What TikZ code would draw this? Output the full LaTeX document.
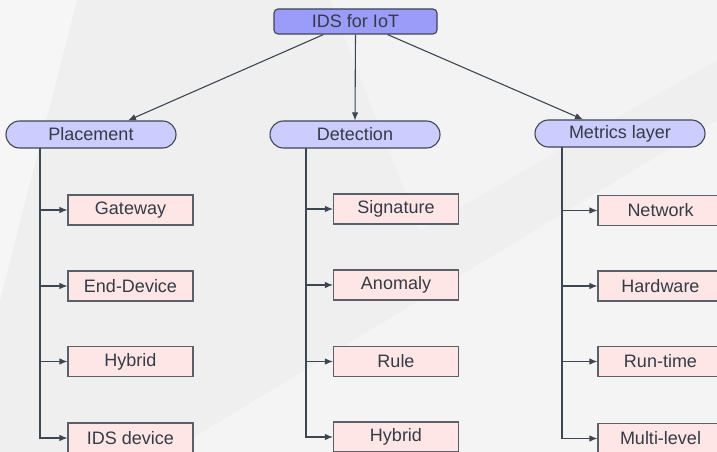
\documentclass[tikz,border=0pt]{standalone}
\usepackage{fontspec}
\setmainfont{Liberation Sans}
\usepackage{tikz}
\usetikzlibrary{arrows.meta,shapes.misc}

\definecolor{bgcol}{HTML}{EFEFEF}
\definecolor{linecol}{HTML}{3D4751}
\definecolor{txtcol}{HTML}{333B45}
\definecolor{rootfill}{HTML}{9B9BFA}
\definecolor{catfill}{HTML}{CCCCFF}
\definecolor{leaffill}{HTML}{FFE6E6}
\definecolor{leafedge}{HTML}{5A6068}

\begin{document}
\begin{tikzpicture}[x=1pt,y=-1pt]

\tikzset{root/.style = {draw=linecol,fill=rootfill,rounded corners=4pt,line width=1.1pt,minimum width=163pt,minimum height=25pt,inner sep=0pt,text=txtcol,font=\fontsize{18}{20}\selectfont}}
\tikzset{cat/.style = {rounded rectangle,draw=linecol,fill=catfill,line width=1.1pt,minimum width=170pt,minimum height=27pt,inner sep=0pt,text=txtcol,font=\fontsize{18}{20}\selectfont}}
\tikzset{leaf/.style = {draw=leafedge,fill=leaffill,line width=1.1pt,minimum width=125pt,minimum height=30pt,inner sep=0pt,text=txtcol,font=\fontsize{18}{20}\selectfont}}
\tikzset{arc/.style = {-{Latex[length=8pt,width=6.5pt]},draw=linecol,line width=1.1pt}}

% background
\fill[bgcol] (0,0) rectangle (717,452);
\clip (0,0) rectangle (717,452);
\fill[white,opacity=.45] (0,0) -- (77,0) -- (0,300) -- cycle;
\fill[white,opacity=.35] (170,452) -- (717,120) -- (717,452) -- cycle;
\fill[white,opacity=.3] (330,0) -- (717,0) -- (717,60) -- (420,230) -- cycle;

% top
\node[root] (ids) at (355.5,21.5) {IDS for IoT};

% categories
\node[cat] (pl) at (91,134.5) {Placement};
\node[cat] (de) at (355,134.5) {Detection};
\node[cat] (me) at (620,133.5) {Metrics layer};

% leaves
\node[leaf] (gw) at (130.5,210) {Gateway};
\node[leaf] (ed) at (130.5,286) {End-Device};
\node[leaf] (hy) at (130.5,361.5) {Hybrid};
\node[leaf] (dv) at (130.5,438) {IDS device};

\node[leaf] (si) at (396,209) {Signature};
\node[leaf] (an) at (396,285) {Anomaly};
\node[leaf] (ru) at (396,361.5) {Rule};
\node[leaf] (hd) at (396,437) {Hybrid};

\node[leaf] (nw) at (660.5,210.5) {Network};
\node[leaf] (hw) at (660.5,286) {Hardware};
\node[leaf] (rt) at (660.5,361.5) {Run-time};
\node[leaf] (ml) at (660.5,438.5) {Multi-level};

% trunk tops
\coordinate (pl-t) at (40,148);
\coordinate (de-t) at (306,148);
\coordinate (me-t) at (562,147);

% arcs from the top
\draw[arc] ([xshift=-32pt]ids.south) to (pl.north -| 128,0);
\draw[arc] (ids.south) to (de.north);
\draw[arc] ([xshift=32pt]ids.south) to (me.north -| 583,0);

% arcs to the leaves
\draw[arc] (pl-t) |- (gw);
\draw[arc] (pl-t) |- (ed);
\draw[arc] (pl-t) |- (hy);
\draw[arc] (pl-t) |- (dv);

\draw[arc] (de-t) |- (si);
\draw[arc] (de-t) |- (an);
\draw[arc] (de-t) |- (ru);
\draw[arc] (de-t) |- (hd);

\draw[arc] (me-t) |- (nw);
\draw[arc] (me-t) |- (hw);
\draw[arc] (me-t) |- (rt);
\draw[arc] (me-t) |- (ml);

\end{tikzpicture}
\end{document}
